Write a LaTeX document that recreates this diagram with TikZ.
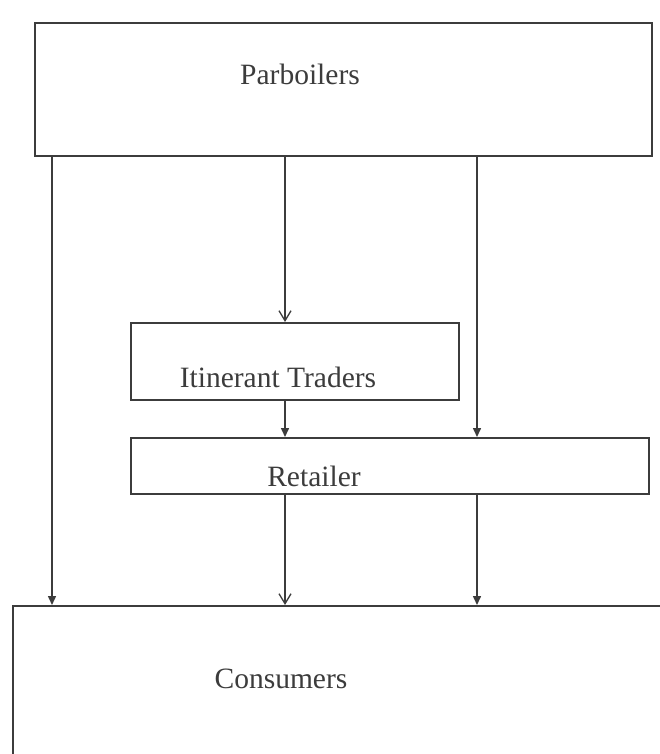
\documentclass[tikz,border=0pt]{standalone}
\usepackage{fontspec}
\setmainfont{Liberation Serif}
\usetikzlibrary{arrows.meta}
\definecolor{ink}{HTML}{3C3C3C}
\tikzset{
  box/.style={draw=ink, line width=1.9pt, rectangle, inner sep=0pt, anchor=north west},
  lbl/.style={text=ink, font=\fontsize{29.5}{32}\selectfont, inner sep=0pt},
  link/.style={draw=ink, line width=1.5pt},
  openarr/.style={link, -{Straight Barb[length=10pt,width=12pt,line width=1.3pt]}},
  fillarr/.style={link, -{Triangle[length=9pt,width=8pt]}},
}
\begin{document}
\begin{tikzpicture}[x=1pt,y=-1pt]
\useasboundingbox (0,0) rectangle (660,754);
\clip (0,0) rectangle (660,754);
\fill[white] (0,0) rectangle (660,754);

\node[box, minimum width=617pt, minimum height=133pt] (par) at (34,22) {};
\node[box, minimum width=328pt, minimum height=77pt] (itin) at (130,322) {};
\node[box, minimum width=518pt, minimum height=56pt] (ret) at (130,437) {};
\node[box, minimum width=700pt, minimum height=200pt] (con) at (12,605) {};

\node[lbl] (tpar) at (300,74) {Parboilers};
\node[lbl] (titin) at (278,377) {Itinerant Traders};
\node[lbl] (tret) at (314,476) {Retailer};
\node[lbl] (tcon) at (281,679) {Consumers};

\coordinate (xa) at (52,0);
\coordinate (xb) at (285,0);
\coordinate (xc) at (477,0);

\draw[fillarr] (par.south -| xa) -- (con.north -| xa);
\draw[openarr] (par.south -| xb) -- (itin.north -| xb);
\draw[fillarr] (par.south -| xc) -- (ret.north -| xc);
\draw[fillarr] (itin.south -| xb) -- (ret.north -| xb);
\draw[openarr] (ret.south -| xb) -- (con.north -| xb);
\draw[fillarr] (ret.south -| xc) -- (con.north -| xc);
\end{tikzpicture}
\end{document}
